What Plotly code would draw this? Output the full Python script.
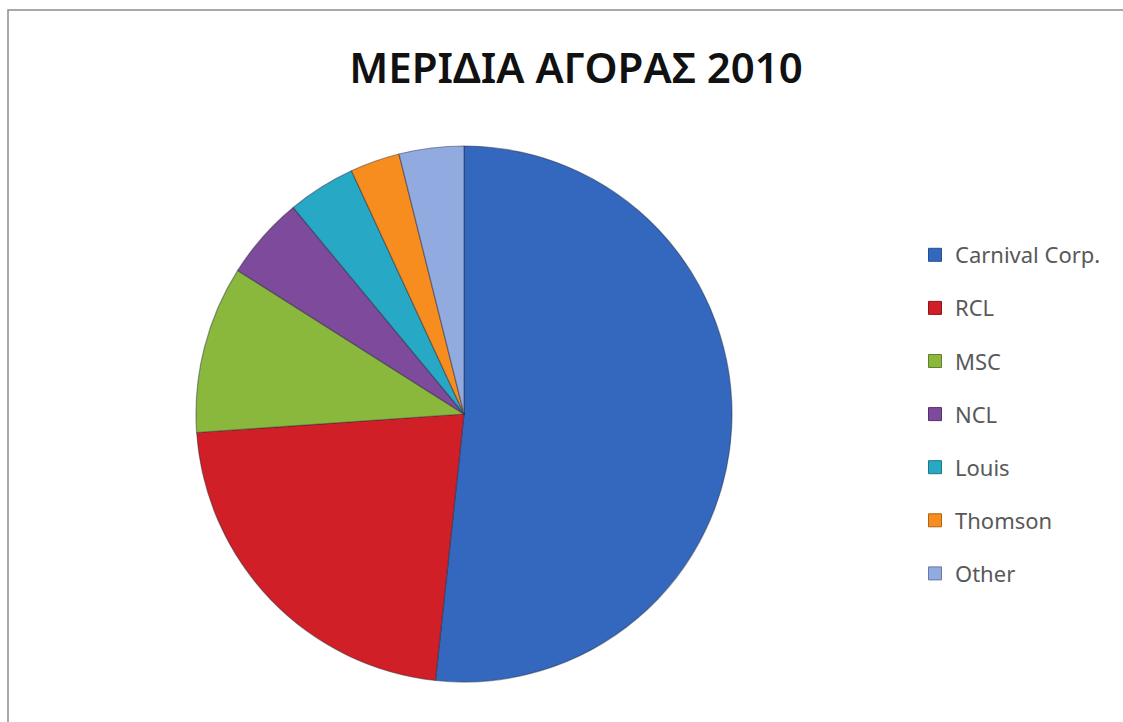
import plotly.graph_objects as go

categories = ["Carnival Corp.", "RCL", "MSC", "NCL", "Louis", "Thomson", "Other"]
shares = [51.7, 22.2, 10.1, 5.0, 4.1, 3.0, 3.9]
colors = ["#3468BE", "#D01F26", "#89B83D", "#7D4A9C", "#27A9C6", "#F68D1E", "#91AADF"]
edge_colors = ["#24508F", "#8E1419", "#5E8227", "#55306C", "#1A7689", "#B0620F", "#6679A6"]
title_text = "ΜΕΡΙΔΙΑ ΑΓΟΡΑΣ 2010"

W, H = 1123, 722
cx, cy, r = 464, 414, 268

fig = go.Figure()
fig.add_trace(go.Pie(
    labels=categories,
    values=shares,
    sort=False,
    direction="clockwise",
    rotation=0,
    marker=dict(colors=colors, line=dict(color="rgba(40,40,60,0.45)", width=1.2)),
    textinfo="none",
    hoverinfo="label+percent",
    showlegend=False,
    domain=dict(x=[(cx - r) / W, (cx + r) / W], y=[(H - cy - r) / H, (H - cy + r) / H]),
))

for i, (c, col) in enumerate(zip(categories, colors)):
    fig.add_trace(go.Scatter(
        x=[None], y=[None], mode="markers", name=c,
        marker=dict(symbol="square", size=13, color=col, line=dict(color=edge_colors[i], width=1)),
        legendgroup=c, showlegend=True, hoverinfo="skip",
    ))

fig.add_shape(type="rect", xref="paper", yref="paper",
              x0=8 / W, x1=1.02, y0=-0.02, y1=(H - 10) / H,
              line=dict(color="#8c8c8c", width=1.5), fillcolor="rgba(0,0,0,0)", layer="below")

fig.update_layout(
    width=W, height=H,
    margin=dict(l=0, r=0, t=0, b=0),
    paper_bgcolor="white", plot_bgcolor="white",
    xaxis=dict(visible=False), yaxis=dict(visible=False),
    title=dict(text=title_text, x=576 / W, xanchor="center", y=(H - 68) / H, yanchor="middle",
               font=dict(family="Noto Sans", size=42, color="#111111", weight=600)),
    legend=dict(x=915 / W, xanchor="left", y=(H - 414.5) / H, yanchor="middle",
                font=dict(family="Noto Sans", size=22, color="#595959"),
                tracegroupgap=21.5, itemwidth=30, bgcolor="rgba(0,0,0,0)"),
)

fig.write_html("out.html")
